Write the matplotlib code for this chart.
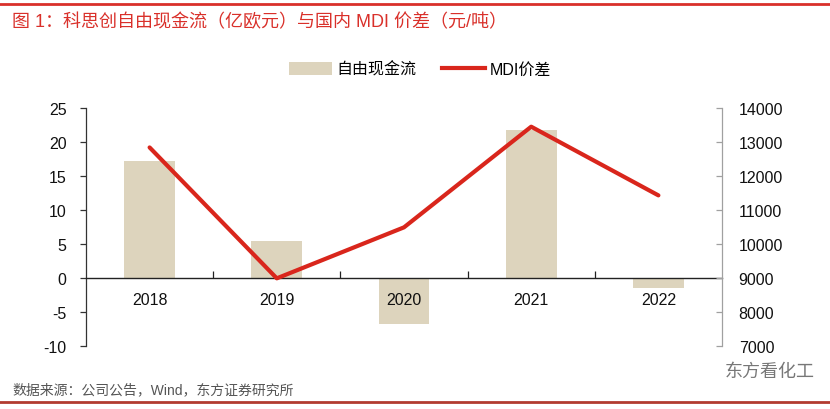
import matplotlib
matplotlib.use("Agg")
import matplotlib.pyplot as plt
from matplotlib.patches import Patch
from matplotlib.lines import Line2D
from matplotlib.ticker import FixedLocator
import numpy as np

plt.rcParams['font.family'] = ['Liberation Sans', 'Noto Sans CJK SC', 'DejaVu Sans']
plt.rcParams['axes.unicode_minus'] = False

categories = ["2018", "2019", "2020", "2021", "2022"]
fcf = [17.2, 5.4, -6.8, 21.8, -1.5]          # 自由现金流（亿欧元）
mdi_spread = [12840, 8990, 10490, 13450, 11430]  # MDI价差（元/吨）
left_ticks = [-10, -5, 0, 5, 10, 15, 20, 25]
right_ticks = [7000, 8000, 9000, 10000, 11000, 12000, 13000, 14000]

title = "图 1：科思创自由现金流（亿欧元）与国内 MDI 价差（元/吨）"
source = "数据来源：公司公告，Wind，东方证券研究所"

bar_color = "#ddd4bd"
line_color = "#d9261c"

fig = plt.figure(figsize=(8.3, 4.1), dpi=100)
ax = fig.add_axes([86/830, 1-347/410, (722-86)/830, (347-109)/410])
ax2 = ax.twinx()

x = np.arange(len(categories))
ax.bar(x, fcf, width=0.4, color=bar_color, zorder=1)
ax.set_xlim(-0.5, len(categories)-0.5)
ax.set_ylim(left_ticks[0], left_ticks[-1])
ax.set_yticks(left_ticks)

ax2.plot(x, mdi_spread, color=line_color, lw=3.0, solid_capstyle='round', zorder=3)
ax2.set_ylim(right_ticks[0], right_ticks[-1])
ax2.set_yticks(right_ticks)

for a in (ax, ax2):
    a.spines['top'].set_visible(False)
    a.set_facecolor('none')
ax2.spines['bottom'].set_visible(False)
ax2.spines['left'].set_visible(False)
ax.spines['right'].set_visible(False)

ax.spines['bottom'].set_position(('data', 0))
ax.spines['bottom'].set_color('#222222')
ax.spines['bottom'].set_linewidth(1.0)
ax.spines['left'].set_color('#333333')
ax.spines['left'].set_linewidth(0.9)
ax2.spines['right'].set_color('#a0a0a0')
ax2.spines['right'].set_linewidth(0.9)

ax.set_xticks(x)
ax.set_xticklabels(categories)
ax.xaxis.set_minor_locator(FixedLocator(np.arange(0.5, len(categories)-1)))
ax.tick_params(axis='x', which='major', length=0, pad=10, labelsize=11.5, colors='#111111')
ax.tick_params(axis='x', which='minor', direction='in', length=5, color='#222222', width=0.9)
ax.tick_params(axis='y', direction='out', length=4, color='#333333', width=0.9,
               labelsize=11.5, pad=10, labelcolor='#111111')
ax2.tick_params(axis='y', direction='in', length=4, color='#a0a0a0', width=0.9,
                labelsize=11.5, pad=12, labelcolor='#111111')

# legend
handles = [Patch(facecolor=bar_color, edgecolor='none'),
           Line2D([0], [0], color=line_color, lw=3.0)]
fig.legend(handles, ["自由现金流", "MDI价差"], loc='center',
           bbox_to_anchor=(420/830, 1-70/410), ncol=2, frameon=False,
           fontsize=11.5, handlelength=2.7, handletextpad=0.3, columnspacing=1.6,
           handleheight=0.9)

# title, rules, footer
fig.add_artist(Line2D([0, 1], [1-5/410, 1-5/410], color='#d9302a', lw=2.0))
fig.text(12/830, 1-22/410, title, color='#d9302a', fontsize=13, va='center', ha='left')
fig.add_artist(Line2D([0, 1], [1-403/410, 1-403/410], color='#b23b30', lw=2.0))
fig.text(12/830, 1-390/410, source, color='#555555', fontsize=10, va='center', ha='left')
fig.text(815/830, 1-372/410, "东方看化工", color='#777777', fontsize=13, va='center', ha='right')

fig.savefig("out.png", dpi=100)
